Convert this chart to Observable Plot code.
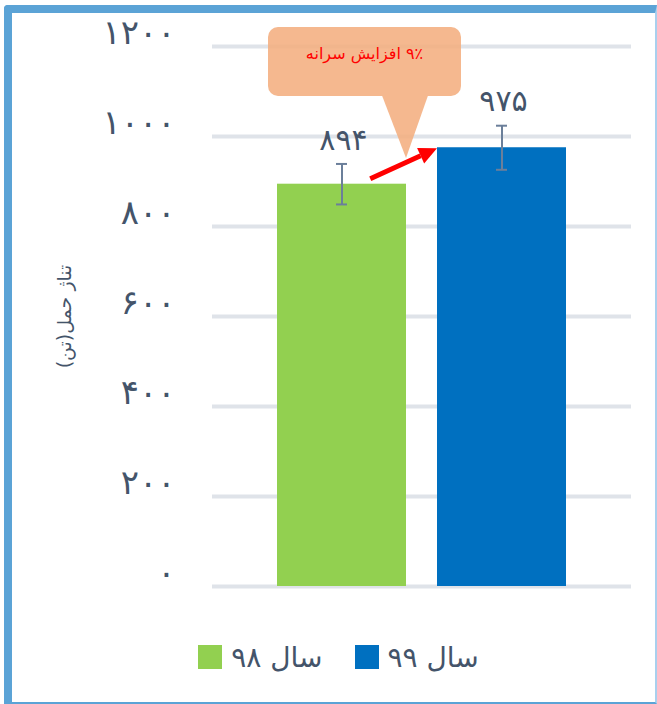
<!DOCTYPE html>
<html><head><meta charset="utf-8">
<script src="https://cdn.jsdelivr.net/npm/d3@7"></script>
<script src="https://cdn.jsdelivr.net/npm/@observablehq/plot@0.6"></script>
<style>
body{margin:0;background:#fff;width:657px;height:704px;overflow:hidden;position:relative;font-family:"DejaVu Sans",sans-serif;}
#frame{position:absolute;left:4px;top:5px;width:653px;height:699px;box-sizing:border-box;border-top:8px solid #5ba3d6;border-left:8px solid #5ba3d6;border-right:2px solid #a9d0ee;border-bottom:2px solid #5ba3d6;border-top-left-radius:4px;}
#chart{position:absolute;left:0;top:0;}
#legend{position:absolute;left:0;top:620px;width:657px;height:74px;display:flex;align-items:center;justify-content:center;padding-left:20px;box-sizing:border-box;color:#44546a;font-size:28px;}
.item{display:flex;align-items:center;margin:0 16px;}
.sw{width:24px;height:24px;margin-right:9px;}
</style></head>
<body>
<div id="frame"></div>
<div id="chart"></div>
<div id="legend"></div>
<script>
const years = ["سال ۹۸", "سال ۹۹"];
const values = [894, 975];
const errors = [45, 49];
const valueLabels = ["۸۹۴", "۹۷۵"];
const colors = ["#92d050", "#0070c0"];
const yTicks = [0, 200, 400, 600, 800, 1000, 1200];
const yTickLabels = ["۰", "۲۰۰", "۴۰۰", "۶۰۰", "۸۰۰", "۱۰۰۰", "۱۲۰۰"];
const yTitle = "تناژ حمل(تن)";
const calloutText = "۹٪ افزایش سرانه";

const data = years.map((year, i) => ({year, value: values[i], err: errors[i], label: valueLabels[i]}));
const ink = "#44546a";
const errColor = "#6b7f9a";

const plot = Plot.plot({
  width: 657, height: 620,
  marginLeft: 212, marginRight: 26, marginTop: 46, marginBottom: 34,
  style: {fontFamily: "DejaVu Sans", color: ink, background: "transparent", overflow: "visible"},
  x: {domain: years, paddingInner: 0.1925, paddingOuter: 0.3975, axis: null},
  y: {domain: [0, 1200], axis: null},
  color: {domain: years, range: colors},
  marks: [
    Plot.ruleY(yTicks, {stroke: "#dfe3e9", strokeWidth: 4}),
    Plot.axisY(yTicks, {tickFormat: d => yTickLabels[yTicks.indexOf(d)], tickSize: 0, tickPadding: 37, fontSize: 34, dy: -13, label: null, fill: ink, className: "yax"}),
    Plot.barY(data, {x: "year", y: "value", fill: "year"}),
    Plot.ruleX(data, {x: "year", y1: d => d.value - d.err, y2: d => d.value + d.err, stroke: errColor, strokeWidth: 2}),
    Plot.tickY(data, {x: "year", y: d => d.value + d.err, stroke: errColor, strokeWidth: 2, insetLeft: 59, insetRight: 59}),
    Plot.tickY(data, {x: "year", y: d => d.value - d.err, stroke: errColor, strokeWidth: 2, insetLeft: 59, insetRight: 59}),
    Plot.text(data, {x: "year", y: d => d.value + d.err, text: "label", dy: -24, fontSize: 30, fill: ink, className: "vlab"}),
    Plot.text([yTitle], {frameAnchor: "left", textAnchor: "middle", rotate: -90, dx: -148, fontSize: 19, fill: ink, className: "ytitle"})
  ]
});
document.getElementById("chart").appendChild(plot);
const svg = d3.select(plot);
svg.selectAll(".ytitle text").attr("direction", "rtl");
svg.selectAll(".yax text").style("letter-spacing", "3px");
svg.selectAll(".vlab text").style("letter-spacing", "3px").attr("dx", 1.5);

// annotation anchored to the scales
const xs = plot.scale("x"), ys = plot.scale("y");
const bw = xs.bandwidth;
const gL = xs.apply(years[0]), gR = gL + bw;
const bL = xs.apply(years[1]);
const g = svg.append("g").attr("opacity", 0.9);
const boxTop = ys.apply(1242), boxBot = ys.apply(1089);
g.append("rect").attr("x", gL - 9).attr("y", boxTop).attr("width", (bL + 24) - (gL - 9)).attr("height", boxBot - boxTop).attr("rx", 10).attr("fill", "#f4b183");
g.append("path").attr("d", `M${gR - 24},${boxBot - 0.5}L${gR + 22},${boxBot - 0.5}L${gR},${ys.apply(951)}Z`).attr("fill", "#f4b183");
svg.append("text").attr("x", (gL - 9 + bL + 24) / 2).attr("y", ys.apply(1184)).attr("dy", "0.35em")
  .attr("text-anchor", "middle").attr("direction", "rtl").attr("fill", "#ff0000").attr("font-size", 16).text(calloutText);

// arrow from green bar top to blue bar top
const x1 = gL + bw * 0.723, y1 = ys.apply(values[0]) - 5;
const x2 = bL, y2 = ys.apply(values[1]) + 1;
const ang = Math.atan2(y2 - y1, x2 - x1);
const hl = 18, hw = 8.5;
const bx = x2 - hl * Math.cos(ang), by = y2 - hl * Math.sin(ang);
const px = -Math.sin(ang), py = Math.cos(ang);
svg.append("line").attr("x1", x1).attr("y1", y1).attr("x2", bx).attr("y2", by).attr("stroke", "#ff0000").attr("stroke-width", 5);
svg.append("path").attr("d", `M${x2},${y2}L${bx + px * hw},${by + py * hw}L${bx - px * hw},${by - py * hw}Z`).attr("fill", "#ff0000");

// legend
const leg = d3.select("#legend");
years.forEach((y, i) => {
  const it = leg.append("div").attr("class", "item");
  it.append("div").attr("class", "sw").style("background", colors[i]);
  it.append("span").attr("dir", "rtl").text(y);
});
</script>
</body></html>
